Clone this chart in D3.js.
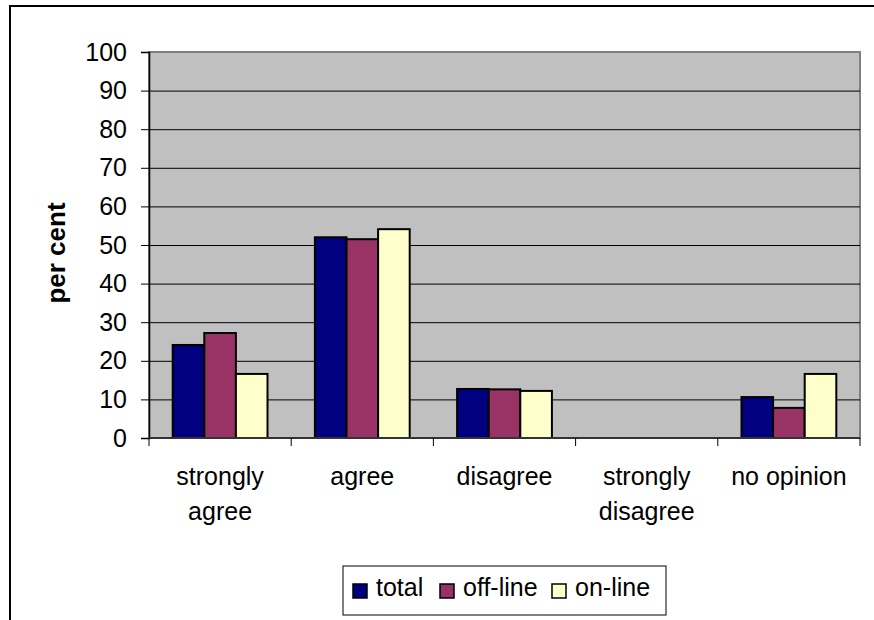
<!DOCTYPE html>
<html>
<head>
<meta charset="utf-8">
<script src="https://cdn.jsdelivr.net/npm/d3@7"></script>
<style>
  html, body { margin: 0; padding: 0; background: #fff; }
  svg { display: block; font-family: "Liberation Sans", Arial, sans-serif; }
</style>
</head>
<body>
<svg id="chart" width="874" height="620"></svg>
<script>
// Survey responses, per cent
const categories = ["strongly agree", "agree", "disagree", "strongly disagree", "no opinion"];
const categoryLines = [["strongly", "agree"], ["agree"], ["disagree"], ["strongly", "disagree"], ["no opinion"]];
const seriesNames = ["total", "off-line", "on-line"];
const total   = [24.1, 52.0, 12.7, 0, 10.6];
const offline = [27.2, 51.5, 12.6, 0, 7.8];
const online  = [16.6, 54.1, 12.2, 0, 16.6];
const yTicks = [0, 10, 20, 30, 40, 50, 60, 70, 80, 90, 100];
const colors = ["#000080", "#993366", "#FFFFCC"];

const seriesValues = [total, offline, online];
const FONT = 25;

const svg = d3.select("#chart");

// Chart area frame
svg.append("path")
  .attr("d", "M10,620 L10,6 L874,6")
  .attr("fill", "none")
  .attr("stroke", "#000")
  .attr("stroke-width", 2);

const plot = { left: 149, top: 52, right: 860, bottom: 438 };

const x = d3.scaleBand()
  .domain(categories)
  .range([plot.left, plot.right])
  .paddingInner(0)
  .paddingOuter(0);

// Bars within a category, with a gap of 1.5 bar widths between groups
const x1 = d3.scaleBand()
  .domain(seriesNames)
  .range([0, x.bandwidth()])
  .paddingInner(0)
  .paddingOuter(0.75);

const y = d3.scaleLinear().domain([0, 100]).range([plot.bottom, plot.top]);

// Plot background
svg.append("rect")
  .attr("x", plot.left).attr("y", plot.top)
  .attr("width", plot.right - plot.left)
  .attr("height", plot.bottom - plot.top)
  .attr("fill", "#C0C0C0")
  .attr("stroke", "#808080")
  .attr("stroke-width", 2);

// Horizontal gridlines
svg.append("g")
  .selectAll("line")
  .data(yTicks.filter(t => t > 0 && t < 100))
  .join("line")
  .attr("x1", plot.left).attr("x2", plot.right)
  .attr("y1", d => y(d) + 0.5).attr("y2", d => y(d) + 0.5)
  .attr("stroke", "#000")
  .attr("stroke-width", 1);

// Bars
const groups = svg.append("g")
  .selectAll("g")
  .data(categories)
  .join("g")
  .attr("transform", d => `translate(${x(d)},0)`);

groups.selectAll("rect")
  .data((c, i) => seriesNames.map((s, j) => ({ s, j, v: seriesValues[j][i] })))
  .join("rect")
  .filter(d => d.v > 0)
  .attr("x", d => x1(d.s))
  .attr("y", d => y(d.v))
  .attr("width", x1.bandwidth())
  .attr("height", d => y(0) - y(d.v))
  .attr("fill", d => colors[d.j])
  .attr("stroke", "#000")
  .attr("stroke-width", 2);

// Y axis
const yAxis = svg.append("g")
  .attr("transform", `translate(${plot.left},0)`)
  .call(d3.axisLeft(y).tickValues(yTicks).tickSize(8).tickPadding(14));
yAxis.attr("font-size", null).attr("font-family", null);
yAxis.select(".domain").attr("stroke", "#000").attr("stroke-width", 1.5);
yAxis.selectAll(".tick line").attr("stroke", "#000");
yAxis.selectAll(".tick text")
  .style("font-size", FONT + "px")
  .attr("fill", "#000");

// X axis
const xAxis = svg.append("g")
  .attr("transform", `translate(0,${plot.bottom})`);
xAxis.append("line")
  .attr("x1", plot.left).attr("x2", plot.right)
  .attr("y1", 0).attr("y2", 0)
  .attr("stroke", "#333").attr("stroke-width", 2);
const boundaries = categories.map(c => x(c)).concat([plot.right]);
xAxis.selectAll("line.tick")
  .data(boundaries)
  .join("line")
  .attr("class", "tick")
  .attr("x1", d => d).attr("x2", d => d)
  .attr("y1", 0).attr("y2", 8)
  .attr("stroke", "#000");

const labels = xAxis.selectAll("text.cat")
  .data(categories)
  .join("text")
  .attr("class", "cat")
  .attr("x", d => x(d) + x.bandwidth() / 2)
  .attr("y", 47)
  .attr("text-anchor", "middle")
  .style("font-size", FONT + "px")
  .attr("fill", "#000");
labels.selectAll("tspan")
  .data((d, i) => categoryLines[i])
  .join("tspan")
  .attr("x", function () { return d3.select(this.parentNode).attr("x"); })
  .attr("dy", (d, i) => i === 0 ? 0 : 35)
  .text(d => d);

// Y axis title
svg.append("text")
  .attr("transform", `translate(65,${(plot.top + plot.bottom) / 2 + 8}) rotate(-90)`)
  .attr("text-anchor", "middle")
  .style("font-size", "26px")
  .attr("font-weight", "bold")
  .attr("fill", "#000")
  .text("per cent");

// Legend
const legend = svg.append("g").attr("transform", "translate(343,566)");
legend.append("rect")
  .attr("x", 0).attr("y", 0)
  .attr("width", 323).attr("height", 49)
  .attr("fill", "#fff")
  .attr("stroke", "#000")
  .attr("stroke-width", 1);
const legendX = [10, 97, 209];
const items = legend.selectAll("g.item")
  .data(seriesNames)
  .join("g")
  .attr("class", "item")
  .attr("transform", (d, i) => `translate(${legendX[i]},0)`);
items.append("rect")
  .attr("x", 0).attr("y", 18)
  .attr("width", 14).attr("height", 14)
  .attr("fill", (d, i) => colors[i])
  .attr("stroke", "#000")
  .attr("stroke-width", 1.5);
items.append("text")
  .attr("x", 23).attr("y", 30)
  .style("font-size", FONT + "px")
  .attr("fill", "#000")
  .text(d => d);
</script>
</body>
</html>
